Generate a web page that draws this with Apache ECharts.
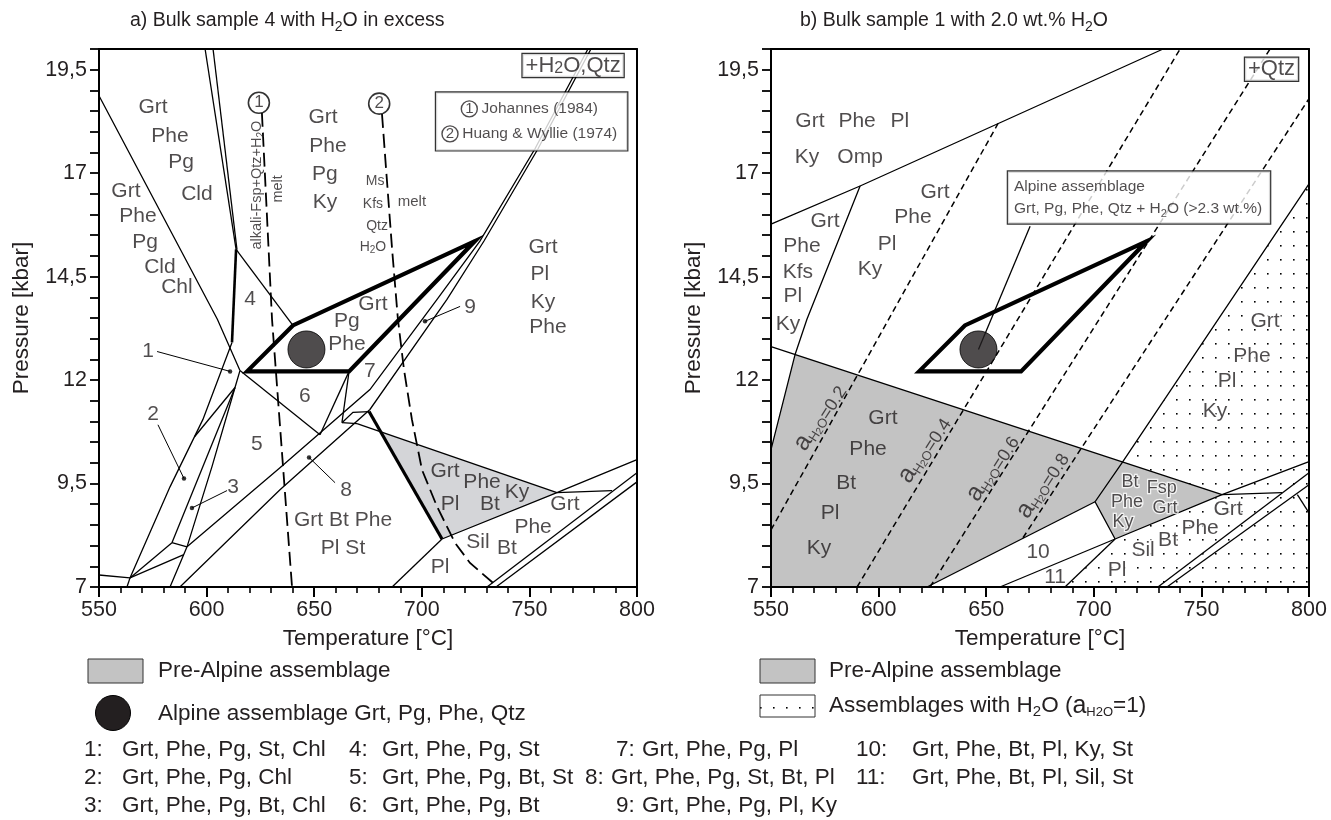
<!DOCTYPE html>
<html>
<head>
<meta charset="utf-8">
<title>P-T sections</title>
<script src="https://cdn.jsdelivr.net/npm/echarts@6.0.0/dist/echarts.min.js"></script>
<style>
html,body{margin:0;padding:0;background:#fff;}
#chart{width:1331px;height:820px;}
</style>
</head>
<body>
<div id="chart"></div>
<script>
// ================= DATA =================
const tempRange = [550, 800];
const pressRange = [7, 20];
const tempTickLabels = [550, 600, 650, 700, 750, 800];
const pressTickLabels = [7, 9.5, 12, 14.5, 17, 19.5];

// shared: Alpine peak field and sample
const alpineField = [[618.8,12.21],[640.1,13.32],[724.7,15.36],[666.2,12.21]];
const alpineSample = [[646.4,12.74]];

// ---- panel a (bulk sample 4, H2O in excess) ----
const aBoundaries = [
  [[550,18.87],[605,13.47],[615.5,12.23]],
  [[599.3,20],[613.7,15.16]],
  [[603.0,20],[614.1,15.16]],
  [[613.7,15.16],[640.1,13.32]],
  [[611.8,12.91],[598.3,11.05],[583.0,9.42],[564.4,7.22]],
  [[615.5,12.23],[652.7,10.68]],
  [[615.5,12.23],[613.2,11.82],[602.5,9.91],[590.9,7.97],[583.0,7.0]],
  [[594.4,10.63],[613.2,11.82]],
  [[613.2,11.82],[583.9,8.07]],
  [[583.9,8.07],[590.9,7.97]],
  [[564.4,7.22],[583.9,8.07]],
  [[564.4,7.22],[589.4,7.78]],
  [[550,7.29],[564.4,7.22]],
  [[563.0,7.0],[564.4,7.22]],
  [[590.9,7.97],[634.1,9.88],[675.9,11.77],[707.1,13.95],[727.0,15.36],[752.6,17.59],[777.2,20]],
  [[587.6,7.0],[634.1,9.35],[675.9,11.29],[711.7,13.95],[728.9,15.36],[754.0,17.59],[778.6,20]],
  [[666.2,12.21],[652.7,10.68]],
  [[666.2,12.21],[662.9,10.97]],
  [[662.9,10.97],[668.0,11.22],[675.5,11.24]],
  [[662.9,10.97],[669.9,10.95]],
  [[669.9,10.95],[762.8,9.28]],
  [[709.4,8.16],[762.8,9.28],[800,10.08]],
  [[762.8,9.28],[788.4,9.33]],
  [[730.3,7.0],[800,9.76]],
  [[734.5,7.0],[800,9.54]],
  [[709.4,8.16],[686.2,7.0]]
];
const aHeavy = [[613.7,15.16],[611.8,12.91]];
const aBold = [[675.5,11.24],[709.4,8.16]];
const aMeltJohannes = [[625.7,18.46],[630.4,13.47],[639.7,7.0]];
const aMeltHuang = [[681.5,18.43],[683.4,17.10],[686.2,15.16],[688.9,13.47],[691.7,12.26],[695.4,11.05],[700.1,9.83],[707.1,8.94],[715.4,8.07],[722.4,7.58],[733.1,7.10],[735.0,7.0]];
const aPreAlpine = [[680.9,10.75],[762.8,9.28],[709.4,8.16]];
const aRefMarks = [[624.3,18.70,'1'],[680.2,18.68,'2']];
const aLeaders = [
  [[577.0,12.69],[610.9,12.21]],
  [[577.4,10.92],[589.5,9.62]],
  [[609.5,9.33],[593.2,8.91]],
  [[659.7,9.52],[647.6,10.13]],
  [[717.8,13.78],[701.5,13.42]]
];
const aFieldLabels = [
  [575.1,18.60,'Grt'],[583.0,17.90,'Phe'],[588.1,17.27,'Pg'],[595.5,16.50,'Cld'],
  [562.5,16.57,'Grt'],[568.1,15.96,'Phe'],[571.4,15.33,'Pg'],[578.3,14.73,'Cld'],[586.2,14.24,'Chl'],
  [654.1,18.36,'Grt'],[656.4,17.66,'Phe'],[655.0,16.98,'Pg'],[655.0,16.30,'Ky'],
  [756.3,15.21,'Grt'],[754.9,14.56,'Pl'],[756.3,13.88,'Ky'],[758.6,13.27,'Phe'],
  [620.2,13.95,'4'],[677.3,13.83,'Grt'],[665.2,13.42,'Pg'],[665.2,12.86,'Phe'],
  [675.9,12.21,'7'],[645.7,11.60,'6'],[623.4,10.44,'5'],
  [572.8,12.69,'1'],[575.1,11.17,'2'],[612.3,9.42,'3'],[664.8,9.35,'8'],[722.4,13.76,'9'],
  [663.4,8.62,'Grt Bt Phe'],[663.4,7.94,'Pl St'],
  [710.8,9.79,'Grt'],[728.0,9.54,'Phe'],[744.2,9.28,'Ky'],[713.1,8.99,'Pl'],[731.7,8.99,'Bt'],
  [766.5,8.99,'Grt'],[751.7,8.45,'Phe'],[726.1,8.09,'Sil'],[739.6,7.94,'Bt'],[708.5,7.48,'Pl']
];
const aSmallLabels = [
  [678.3,16.81,'Ms'],[677.3,16.25,'Kfs'],[679.2,15.72,'Qtz'],[677.3,15.21,'H{s|2}O']
];
const aMeltLabels = [[695.4,16.30,'melt']];
const aVerticalLabels = [[623.4,16.71,'alkali-Fsp+Qtz+H{s|2}O'],[633.0,16.62,'melt']];
const aSystemBox = [[770.3,19.60,'+H{s|2}O,Qtz']];
const aRefBox = [[706.6,18.25,'{c|1}{t| Johannes (1984)}\n{c|2}{t| Huang & Wyllie (1974)}']];

// ---- panel b (bulk sample 1, 2.0 wt.% H2O) ----
const bBoundaries = [
  [[550,15.77],[591.4,16.69],[732.2,20]],
  [[591.4,16.69],[566.7,13.47],[561.2,12.62],[550,10.32]],
  [[550,12.81],[759.6,9.23]],
  [[800,16.74],[713.1,10.0],[700.6,9.06],[709.9,8.16]],
  [[622.5,7.0],[700.6,9.06]],
  [[709.9,8.16],[759.6,9.23],[800,10.03]],
  [[759.6,9.23],[787.5,9.28]],
  [[729.8,7.0],[800,9.76]],
  [[734.0,7.0],[800,9.47]],
  [[794.6,9.23],[800,8.79]],
  [[656.4,7.0],[709.9,8.16]],
  [[686.6,7.0],[709.9,8.16]],
  [[646.4,12.74],[670.4,15.72]]
];
const bActivity02 = [[550,8.38],[655.5,18.2]];
const bActivity04 = [[590,7.0],[740.1,20]];
const bActivity06 = [[623.9,7.0],[781.9,20]];
const bActivity08 = [[667.1,8.19],[800,18.8]];
const bPreAlpine = [[561.2,12.62],[759.6,9.23],[709.9,8.16],[700.6,9.06],[622.5,7.0],[550,7.0],[550,10.32]];
const bWaterSaturated = [[800,16.74],[713.1,10.0],[759.6,9.23],[709.9,8.16],[686.6,7.0],[800,7.0]];
const bFieldLabels = [
  [568.1,18.26,'Grt'],[590.0,18.26,'Phe'],[609.9,18.26,'Pl'],[566.7,17.39,'Ky'],[591.4,17.39,'Omp'],
  [575.1,15.84,'Grt'],[564.4,15.24,'Phe'],[562.5,14.61,'Kfs'],[560.2,14.03,'Pl'],[557.9,13.35,'Ky'],
  [626.2,16.54,'Grt'],[616.0,15.94,'Phe'],[603.9,15.28,'Pl'],[596.0,14.68,'Ky'],
  [602.0,11.09,'Grt'],[595.1,10.32,'Phe'],[584.9,9.52,'Bt'],[577.4,8.79,'Pl'],[572.3,7.94,'Ky'],
  [674.1,7.85,'10'],[682.0,7.24,'11']
];
const bHaloLabels = [
  [762.4,8.87,'Grt'],[749.4,8.43,'Phe'],[734.5,8.14,'Bt'],[722.9,7.90,'Sil'],[710.8,7.41,'Pl'],
  [779.6,13.42,'Grt'],[773.5,12.57,'Phe'],[761.9,11.97,'Pl'],[756.3,11.24,'Ky']
];
const bPentagonLabels = [[716.8,9.54,'Bt'],[731.6,9.40,'Fsp'],[715.4,9.06,'Phe'],[733.1,8.91,'Grt'],[713.6,8.57,'Ky']];
const bActivityLabels = [
  [572.5,11.10,'{a|a}{h|H}{hs|2}{h|O}{n|=0.2}'],
  [621.0,10.32,'{a|a}{h|H}{hs|2}{h|O}{n|=0.4}'],
  [652.7,9.88,'{a|a}{h|H}{hs|2}{h|O}{n|=0.6}'],
  [675.9,9.47,'{a|a}{h|H}{hs|2}{h|O}{n|=0.8}']
];
const bSystemBox = [[782.6,19.51,'+Qtz']];
const bAlpineBox = [[660.1,16.41,'Alpine assemblage\nGrt, Pg, Phe, Qtz + H{s|2}O (>2.3 wt.%)']];

// ---- key ----
const assemblageKeys = ['1:','2:','3:','4:','5:','6:','7:','8:','9:','10:','11:'];
const assemblageNames = ['Grt, Phe, Pg, St, Chl','Grt, Phe, Pg, Chl','Grt, Phe, Pg, Bt, Chl',
  'Grt, Phe, Pg, St','Grt, Phe, Pg, Bt, St','Grt, Phe, Pg, Bt',
  'Grt, Phe, Pg, Pl','Grt, Phe, Pg, St, Bt, Pl','Grt, Phe, Pg, Pl, Ky',
  'Grt, Phe, Bt, Pl, Ky, St','Grt, Phe, Bt, Pl, Sil, St'];

// ================= STYLE / BUILD =================
const INK = '#231f20';
const FONT = '"Liberation Sans", Arial, Helvetica, sans-serif';
const GREY_A = '#d4d5d8';
const GREY_B = '#c3c3c3';

function dotPattern() {
  const c = document.createElement('canvas');
  c.width = 13; c.height = 14;
  const g = c.getContext('2d');
  g.fillStyle = '#000';
  g.fillRect(6, 7, 1.6, 1.6);
  return { image: c, repeat: 'repeat' };
}

function xAx(gi, pos, main) {
  return {
    gridIndex: gi, type: 'value', position: pos, min: tempRange[0], max: tempRange[1], interval: 50, z: 10,
    axisLine: { show: true, onZero: false, lineStyle: { color: '#000', width: 2 } },
    axisTick: { show: main, inside: false, length: 10, lineStyle: { color: '#000', width: 2 } },
    minorTick: { show: main, splitNumber: 5, length: 6, lineStyle: { color: '#000', width: 1.6 } },
    splitLine: { show: false }, minorSplitLine: { show: false },
    axisLabel: { show: main, color: INK, fontSize: 21.5, fontFamily: FONT, margin: 12,
      formatter: v => tempTickLabels.includes(Math.round(v)) ? String(Math.round(v)) : '' },
    name: main ? 'Temperature [°C]' : '', nameLocation: 'middle', nameGap: 40,
    nameTextStyle: { color: INK, fontSize: 22.5, fontFamily: FONT }
  };
}
function yAx(gi, pos, main) {
  return {
    gridIndex: gi, type: 'value', position: pos, min: pressRange[0], max: pressRange[1], interval: 0.5, z: 10,
    axisLine: { show: true, onZero: false, lineStyle: { color: '#000', width: 2 } },
    axisTick: { show: main, inside: false, length: 9, lineStyle: { color: '#000', width: 1.8 } },
    splitLine: { show: false },
    axisLabel: { show: main, color: INK, fontSize: 21.5, fontFamily: FONT, margin: 12,
      formatter: v => { const r = Math.round(v * 10) / 10; return pressTickLabels.includes(r) ? String(r).replace('.', ',') : ''; } },
    name: main ? 'Pressure [kbar]' : '', nameLocation: 'middle', nameGap: 66, nameRotate: 90,
    nameTextStyle: { color: INK, fontSize: 22.5, fontFamily: FONT }
  };
}

function lineS(gi, pts, width, dash, z) {
  return { type: 'line', xAxisIndex: gi, yAxisIndex: gi, data: pts, symbol: 'none', silent: true,
    animation: false, connectNulls: true,
    lineStyle: { color: '#000', width: width, type: dash || 'solid', cap: 'butt', join: 'miter' }, z: z || 5 };
}
function polyS(gi, poly, style, z) {
  return { type: 'custom', xAxisIndex: gi, yAxisIndex: gi, silent: true, animation: false, z: z,
    data: [poly[0]],
    renderItem: (params, api) => ({ type: 'polygon',
      shape: { points: poly.map(p => api.coord(p)) }, style: Object.assign({}, style) }) };
}
function textS(gi, items, label, z) {
  return { type: 'scatter', xAxisIndex: gi, yAxisIndex: gi, symbolSize: 1, silent: true, animation: false,
    itemStyle: { color: 'rgba(0,0,0,0)' }, z: z || 30,
    label: Object.assign({ show: true, position: 'inside', color: INK, fontFamily: FONT, fontSize: 21,
      formatter: p => p.data.t }, label),
    data: items.map(it => ({ value: [it[0], it[1]], t: it[2] })) };
}
function dotS(gi, pts, size) {
  return { type: 'scatter', xAxisIndex: gi, yAxisIndex: gi, symbol: 'circle', symbolSize: size, silent: true,
    animation: false, itemStyle: { color: '#000' }, data: pts, z: 8 };
}

const subRich = (fs) => ({ s: { fontSize: Math.round(fs * 0.72), lineHeight: Math.round(fs * 0.75), verticalAlign: 'bottom', fontFamily: FONT, color: INK } });

const series = [];
// panel a
series.push(polyS(0, aPreAlpine, { fill: GREY_A, stroke: 'none' }, 1));
aBoundaries.forEach(b => series.push(lineS(0, b, 1.3)));
series.push(lineS(0, aHeavy, 2.6));
series.push(lineS(0, aBold, 3.2));
series.push(lineS(0, aMeltJohannes, 1.8, [14, 6]));
series.push(lineS(0, aMeltHuang, 1.8, [14, 6]));
series.push(polyS(0, alpineField, { fill: 'none', stroke: '#000', lineWidth: 4.2, lineJoin: 'miter' }, 7));
aLeaders.forEach(l => { series.push(lineS(0, l, 1)); });
series.push(dotS(0, aLeaders.map(l => l[1]), 4.5));
series.push({ type: 'scatter', xAxisIndex: 0, yAxisIndex: 0, data: alpineSample, symbolSize: 37, silent: true, animation: false,
  itemStyle: { color: INK, borderColor: '#000', borderWidth: 1 }, z: 9 });
series.push({ type: 'scatter', xAxisIndex: 0, yAxisIndex: 0, data: aRefMarks, symbolSize: 21, silent: true, animation: false,
  itemStyle: { color: '#fff', borderColor: '#000', borderWidth: 1.6 }, z: 9,
  label: { show: true, position: 'inside', formatter: p => p.value[2], color: INK, fontSize: 17, fontFamily: FONT } });
series.push(textS(0, aFieldLabels, {}));
series.push(textS(0, aSmallLabels, { fontSize: 14, lineHeight: 17, rich: subRich(14) }));
series.push(textS(0, aMeltLabels, { fontSize: 15 }));
series.push(textS(0, aVerticalLabels, { fontSize: 14.5, lineHeight: 18, rotate: 90, rich: subRich(14.5) }));
series.push(textS(0, aSystemBox, { fontSize: 22, lineHeight: 22, backgroundColor: '#fff', borderColor: '#000', borderWidth: 1.2,
  padding: [1, 3, 0, 3], rich: { s: { fontSize: 16, lineHeight: 14, verticalAlign: 'bottom', fontFamily: FONT, color: INK } } }, 40));
series.push(textS(0, aRefBox, { align: 'left', verticalAlign: 'middle', backgroundColor: '#fff', borderColor: '#000', borderWidth: 1.2,
  padding: [4, 10, 4, 6],
  rich: {
    c: { width: 16, height: 16, lineHeight: 16, borderRadius: 8, borderColor: INK, borderWidth: 1.4, align: 'center', verticalAlign: 'middle', fontSize: 15, color: INK, fontFamily: FONT },
    t: { fontSize: 15.5, lineHeight: 25, color: INK, fontFamily: FONT }
  } }, 40));

// panel b
const pattern = dotPattern();
series.push(polyS(1, bWaterSaturated, { fill: pattern, stroke: 'none' }, 1));
series.push(polyS(1, bPreAlpine, { fill: GREY_B, stroke: 'none' }, 2));
bBoundaries.forEach(b => series.push(lineS(1, b, 1.3)));
[bActivity02, bActivity04, bActivity06, bActivity08].forEach(a => series.push(lineS(1, a, 1.5, [6, 4])));
series.push(polyS(1, alpineField, { fill: 'none', stroke: '#000', lineWidth: 4.2, lineJoin: 'miter' }, 7));
series.push({ type: 'scatter', xAxisIndex: 1, yAxisIndex: 1, data: alpineSample, symbolSize: 37, silent: true, animation: false,
  itemStyle: { color: INK, borderColor: '#000', borderWidth: 1 }, z: 9 });
series.push(textS(1, bFieldLabels, {}));
series.push(textS(1, bHaloLabels, { textBorderColor: '#fff', textBorderWidth: 3 }));
series.push(textS(1, bPentagonLabels, { fontSize: 18, textBorderColor: '#fff', textBorderWidth: 2.5 }));
series.push(textS(1, bActivityLabels, { rotate: 57, rich: {
  a: { fontSize: 25, lineHeight: 26, color: INK, fontFamily: FONT },
  h: { fontSize: 13, lineHeight: 14, verticalAlign: 'bottom', color: INK, fontFamily: FONT },
  hs: { fontSize: 10, lineHeight: 11, verticalAlign: 'bottom', color: INK, fontFamily: FONT },
  n: { fontSize: 18, lineHeight: 20, verticalAlign: 'bottom', color: INK, fontFamily: FONT }
} }));
series.push(textS(1, bSystemBox, { fontSize: 22, lineHeight: 22, backgroundColor: '#fff', borderColor: '#000', borderWidth: 1.2,
  padding: [1, 3, 0, 3] }, 40));
series.push(textS(1, bAlpineBox, { fontSize: 15.5, lineHeight: 22, align: 'left', verticalAlign: 'middle',
  backgroundColor: '#fff', borderColor: '#000', borderWidth: 1.2, padding: [4, 8, 4, 6], rich: subRich(15.5) }, 40));

// ---------- graphic: titles, legend, key ----------
const g = [];
function txt(x, y, text, size, extra) {
  return Object.assign({ type: 'text', x: x, y: y, silent: true,
    style: Object.assign({ text: text, fill: INK, font: size + 'px ' + FONT, fontSize: size, fontFamily: FONT,
      verticalAlign: 'middle', textVerticalAlign: 'middle', align: 'left', textAlign: 'left' }, extra || {}) });
}
const richSub = (fs) => ({ s: { fontSize: Math.round(fs * 0.7), lineHeight: Math.round(fs * 0.75), verticalAlign: 'bottom', fill: INK, fontFamily: FONT } });
g.push(txt(130, 21, 'a) Bulk sample 4 with H{s|2}O in excess', 19.5, { lineHeight: 26, rich: richSub(19.5) }));
g.push(txt(800, 21, 'b) Bulk sample 1 with 2.0 wt.% H{s|2}O', 19.5, { lineHeight: 26, rich: richSub(19.5) }));

g.push({ type: 'rect', shape: { x: 88, y: 659, width: 55, height: 24 }, style: { fill: GREY_B, stroke: '#333', lineWidth: 1 }, silent: true });
g.push(txt(158, 671, 'Pre-Alpine assemblage', 22.5));
g.push({ type: 'circle', shape: { cx: 113, cy: 713, r: 17.5 }, style: { fill: INK, stroke: '#000', lineWidth: 1 }, silent: true });
g.push(txt(158, 714, 'Alpine assemblage Grt, Pg, Phe, Qtz', 22.5));

g.push({ type: 'rect', shape: { x: 760, y: 659, width: 55, height: 24 }, style: { fill: GREY_B, stroke: '#333', lineWidth: 1 }, silent: true });
g.push(txt(829, 671, 'Pre-Alpine assemblage', 22.5));
g.push({ type: 'rect', shape: { x: 760, y: 695, width: 55, height: 22 }, style: { fill: pattern, stroke: '#333', lineWidth: 1 }, silent: true });
g.push(txt(829, 706, 'Assemblages with H{s|2}O ({a|a}{h|H2O}=1)', 22.5, { lineHeight: 26, rich: {
  s: { fontSize: 15, lineHeight: 15, verticalAlign: 'bottom', fill: INK, fontFamily: FONT },
  a: { fontSize: 25, lineHeight: 26, fill: INK, fontFamily: FONT },
  h: { fontSize: 13, lineHeight: 13, verticalAlign: 'bottom', fill: INK, fontFamily: FONT }
} }));

// key layout: [number x, text x] per row of each column
const keyPos = [
  [[84,122],[84,122],[84,122]],
  [[349,382],[349,382],[349,382]],
  [[616,642],[585,611],[616,642]],
  [[856,912],[856,912]]
];
const keyRows = [750, 778, 806];
assemblageKeys.forEach((k, i) => {
  const col = i < 9 ? Math.floor(i / 3) : 3;
  const row = i < 9 ? i % 3 : i - 9;
  const p = keyPos[col][row];
  g.push(txt(p[0], keyRows[row], k, 22.5));
  g.push(txt(p[1], keyRows[row], assemblageNames[i], 22.5));
});

const option = {
  animation: false,
  backgroundColor: '#fff',
  grid: [
    { left: 99, top: 49, width: 538, height: 538, show: false },
    { left: 771, top: 49, width: 538, height: 538, show: false }
  ],
  xAxis: [xAx(0, 'bottom', true), xAx(1, 'bottom', true), xAx(0, 'top', false), xAx(1, 'top', false)],
  yAxis: [yAx(0, 'left', true), yAx(1, 'left', true), yAx(0, 'right', false), yAx(1, 'right', false)],
  series: series,
  graphic: g
};

const chart = echarts.init(document.getElementById('chart'), null, { renderer: 'canvas' });
chart.setOption(option);
</script>
</body>
</html>
